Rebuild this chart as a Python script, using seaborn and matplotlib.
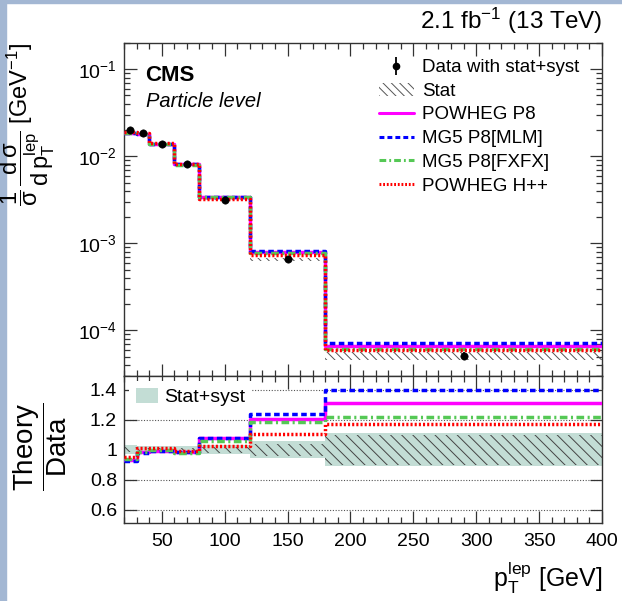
import numpy as np
import pandas as pd
import seaborn as sns
import matplotlib.pyplot as plt
from matplotlib.lines import Line2D
from matplotlib.patches import Patch, Rectangle
from matplotlib.ticker import MultipleLocator, FixedLocator, FuncFormatter, LogLocator, NullFormatter

# --- Data ---
bin_edges = [20, 30, 40, 60, 80, 120, 180, 400]
data_x = [25, 35, 50, 70, 100, 150, 290]
data_y = [0.0200, 0.0184, 0.0139, 0.00826, 0.00319, 0.00066, 0.000051]

powheg_p8 = [0.0186, 0.0181, 0.01376, 0.00814, 0.00345, 0.000795, 0.0000668]
mg5_mlm = [0.0185, 0.0180, 0.01376, 0.00814, 0.00345, 0.000815, 0.0000711]
mg5_fxfx = [0.0187, 0.0181, 0.01383, 0.00805, 0.00338, 0.000782, 0.0000620]
powheg_hpp = [0.0190, 0.0186, 0.01404, 0.00818, 0.00327, 0.000729, 0.0000597]

ratio_p8 = [0.930, 0.985, 0.990, 0.985, 1.080, 1.205, 1.310]
ratio_mlm = [0.925, 0.980, 0.990, 0.985, 1.080, 1.235, 1.395]
ratio_fxfx = [0.935, 0.985, 0.995, 0.975, 1.060, 1.185, 1.215]
ratio_hpp = [0.950, 1.010, 1.010, 0.990, 1.025, 1.105, 1.170]

stat_unc = [0.015, 0.010, 0.010, 0.012, 0.020, 0.040, 0.100]
tot_unc = [0.030, 0.025, 0.025, 0.025, 0.030, 0.055, 0.110]

# --- Style ---
sns.set_style("ticks")
plt.rcParams['font.family'] = ['Liberation Sans', 'DejaVu Sans']
plt.rcParams['mathtext.fontset'] = 'custom'
plt.rcParams['mathtext.rm'] = 'Liberation Sans'
plt.rcParams['mathtext.it'] = 'Liberation Sans:italic'
plt.rcParams['mathtext.bf'] = 'Liberation Sans:bold'
plt.rcParams['hatch.linewidth'] = 0.7
plt.rcParams['text.color'] = 'black'
plt.rcParams['xtick.labelcolor'] = 'black'
plt.rcParams['ytick.labelcolor'] = 'black'

series = [
    ("POWHEG P8", powheg_p8, ratio_p8, '#ff00ff', '-'),
    ("MG5 P8[MLM]", mg5_mlm, ratio_mlm, '#0000ff', (0, (1.6, 1.0))),
    ("MG5 P8[FXFX]", mg5_fxfx, ratio_fxfx, '#55c855', (0, (2.2, 1.0, 0.6, 1.0))),
    ("POWHEG H++", powheg_hpp, ratio_hpp, '#ff0000', (0, (0.6, 0.6))),
]

W, H = 622, 601
fig = plt.figure(figsize=(W / 100, H / 100), dpi=100)
fig.patch.set_facecolor('white')
fig.patches.append(Rectangle((0, 0), 6 / W, 1, transform=fig.transFigure, color='#a3b7d3', zorder=-1))
fig.patches.append(Rectangle((0, 1 - 3 / H), 1, 3 / H, transform=fig.transFigure, color='#a3b7d3', zorder=-1))

ax_l, ax_r = 124 / W, 602 / W
ax_top = fig.add_axes([ax_l, 1 - 376 / H, ax_r - ax_l, (376 - 43) / H])
ax_rat = fig.add_axes([ax_l, 1 - 523 / H, ax_r - ax_l, (523 - 376) / H], sharex=ax_top)


def ext(v):
    return list(v) + [v[-1]]


edges = np.array(bin_edges, dtype=float)

# --- Upper panel ---
dy = np.array(data_y)
su = np.array(stat_unc)
ax_top.fill_between(edges, ext(dy * (1 - su)), ext(dy * (1 + su)), step='post',
                    facecolor='none', edgecolor='#555555', hatch='\\\\\\\\', linewidth=0, zorder=1)
for name, vals, rat, col, ls in series:
    df = pd.DataFrame({'x': edges, 'y': ext(vals)})
    sns.lineplot(data=df, x='x', y='y', ax=ax_top, color=col, linestyle=ls,
                 linewidth=2.5, drawstyle='steps-post', zorder=3)
sns.scatterplot(x=data_x, y=data_y, ax=ax_top, color='black', s=28, edgecolor='black', zorder=5)
ax_top.errorbar(data_x, data_y, yerr=dy * np.array(tot_unc), fmt='none', ecolor='black', lw=1.2, zorder=5)

ax_top.set_yscale('log')
ax_top.set_xlim(20, 400)
ax_top.set_ylim(3e-5, 0.2)
ax_top.set_xlabel('')
ax_top.set_ylabel('')
ax_top.yaxis.set_major_locator(LogLocator(base=10, numticks=10))
ax_top.yaxis.set_minor_locator(LogLocator(base=10, subs=np.arange(2, 10), numticks=20))
ax_top.yaxis.set_minor_formatter(NullFormatter())
plt.setp(ax_top.get_xticklabels(), visible=False)

data_handle = (Line2D([], [], color='black', marker='|', markersize=13, markeredgewidth=1.3, linestyle='none'),
               Line2D([], [], color='black', marker='o', markersize=4.5, linestyle='none'))
handles = [
    data_handle,
    Patch(facecolor='none', edgecolor='#555555', hatch='\\\\\\\\', linewidth=0),
]
labels = ["Data with stat+syst", "Stat"]
for name, vals, rat, col, ls in series:
    handles.append(Line2D([], [], color=col, linestyle=ls, linewidth=2.2))
    labels.append(name)
ax_top.legend(handles, labels, loc='upper left', bbox_to_anchor=((379 - 124) / 478, 0.952),
              frameon=False, fontsize=13.5, handlelength=1.85, handletextpad=0.45,
              labelspacing=0.35, borderpad=0, borderaxespad=0)

ax_top.text(0.045, 0.902, 'CMS', transform=ax_top.transAxes, fontsize=16, fontweight='bold', va='center')
ax_top.text(0.045, 0.825, 'Particle level', transform=ax_top.transAxes, fontsize=14.5, style='italic', va='center')

# --- Ratio panel ---
for g in [0.6, 0.8, 1.2, 1.4]:
    ax_rat.axhline(g, color='#555555', linestyle=(0, (1, 1.5)), linewidth=0.8, zorder=0)
tu = np.array(tot_unc)
ax_rat.fill_between(edges, ext(1 - tu), ext(1 + tu), step='post', facecolor='#c3ddd5',
                    edgecolor='none', linewidth=0, zorder=1)
ax_rat.fill_between(edges, ext(1 - su), ext(1 + su), step='post', facecolor='none',
                    edgecolor='#444444', hatch='\\\\\\', linewidth=0, zorder=1.5)
for name, vals, rat, col, ls in series:
    df = pd.DataFrame({'x': edges, 'y': ext(rat)})
    sns.lineplot(data=df, x='x', y='y', ax=ax_rat, color=col, linestyle=ls,
                 linewidth=2.5, drawstyle='steps-post', zorder=3)

ax_rat.set_ylim(0.51, 1.49)
ax_rat.set_xlim(20, 400)
ax_rat.set_xlabel('')
ax_rat.set_ylabel('')
ax_rat.yaxis.set_major_locator(FixedLocator([0.6, 0.8, 1.0, 1.2, 1.4]))
ax_rat.yaxis.set_major_formatter(FuncFormatter(lambda v, p: f"{v:g}"))
ax_rat.xaxis.set_major_locator(MultipleLocator(50))
ax_rat.xaxis.set_minor_locator(MultipleLocator(10))
leg2 = ax_rat.legend([Patch(facecolor='#c3ddd5', edgecolor='none')], ["Stat+syst"], loc='upper left',
                     bbox_to_anchor=(0.0, 1.0), fontsize=14, frameon=True, facecolor='white',
                     edgecolor='none', framealpha=1, fancybox=False, handlelength=1.15,
                     handleheight=0.8, handletextpad=0.3, borderpad=0.35, borderaxespad=0.25)
leg2.set_zorder(2)

for ax in (ax_top, ax_rat):
    ax.tick_params(which='both', direction='in', top=True, right=True, labelsize=14,
                   width=0.9, color='#333333', labelcolor='black')
    ax.tick_params(which='major', length=9, pad=5)
    ax.tick_params(which='minor', length=4.5)
    for sp in ax.spines.values():
        sp.set_linewidth(1.0)
        sp.set_color('#333333')
ax_rat.tick_params(axis='x', which='major', pad=7)

# --- Labels ---
fig.text(28 / W, 1 - 43 / H,
         r'$\dfrac{1}{\mathrm{σ}}\,\dfrac{\mathrm{d}\,\mathrm{σ}}{\mathrm{d}\,\mathrm{p}_{\mathrm{T}}^{\mathrm{lep}}}$ [GeV$^{-1}$]',
         rotation=90, ha='center', va='top', fontsize=17)
fig.text(40 / W, 1 - 447 / H, r'$\dfrac{\mathrm{Theory}}{\mathrm{Data}}$',
         rotation=90, ha='center', va='center', fontsize=20)
fig.text(602 / W, 1 - 578 / H, r'$\mathrm{p}_{\mathrm{T}}^{\mathrm{lep}}$ [GeV]', ha='right', va='center', fontsize=18)
fig.text(602 / W, 1 - 21 / H, r'2.1 fb$^{-1}$ (13 TeV)', ha='right', va='center', fontsize=17.5)

fig.savefig('out.png', dpi=100)
